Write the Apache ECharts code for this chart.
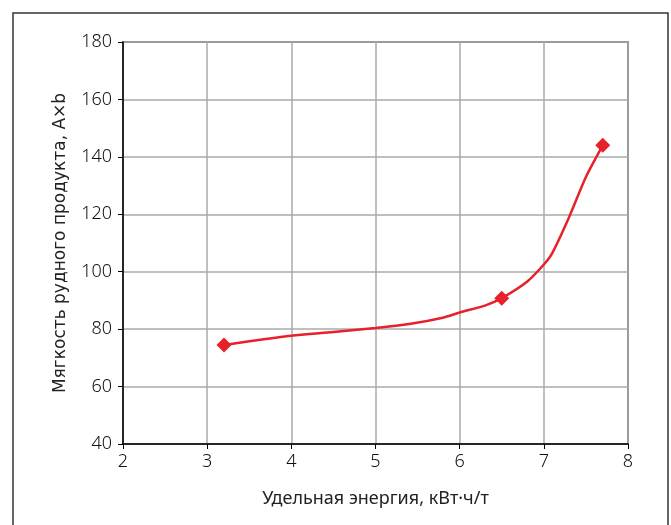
<!DOCTYPE html>
<html><head><meta charset="utf-8">
<script src="https://cdn.jsdelivr.net/npm/echarts@6/dist/echarts.min.js"></script>
<style>html,body{margin:0;padding:0;background:#fff}#c{width:671px;height:525px}</style>
</head><body><div id="c"></div>
<script>
var xTicks = [2, 3, 4, 5, 6, 7, 8];
var yTicks = [40, 60, 80, 100, 120, 140, 160, 180];
var curveX = [3.2, 3.5, 4.0, 4.5, 5.0, 5.4, 5.8, 6.0, 6.3, 6.5, 6.8, 7.0, 7.1, 7.3, 7.5, 7.7];
var curveY = [74.5, 75.8, 77.7, 79.0, 80.4, 81.8, 84.0, 85.8, 88.2, 90.8, 96.5, 102.5, 106.5, 119.0, 133.0, 144.0];
var markX = [3.2, 6.5, 7.7];
var markY = [74.5, 90.8, 144.0];
var xName = 'Удельная энергия, кВт·ч/т';
var yName = 'Мягкость рудного продукта, А×b';

var chart = echarts.init(document.getElementById('c'), null, {renderer: 'canvas'});
var tickFont = {fontFamily: 'Noto Sans', fontWeight: 300, fontSize: 18, color: '#111'};
chart.setOption({
  animation: false,
  backgroundColor: '#fff',
  graphic: [{type: 'rect', shape: {x: 13, y: 13, width: 655, height: 530}, style: {fill: 'none', stroke: '#333', lineWidth: 1.5}, silent: true}],
  grid: {left: 123, top: 42, width: 505, height: 402, show: true, borderColor: '#444', borderWidth: 1.5},
  xAxis: {
    type: 'value', min: 2, max: 8, interval: 1,
    name: xName, nameLocation: 'middle', nameGap: 46,
    nameTextStyle: {fontFamily: 'Noto Sans, sans-serif', fontSize: 18, color: '#222'},
    axisLine: {show: true, lineStyle: {color: '#000', width: 1.5}},
    axisTick: {show: true, length: 5, lineStyle: {color: '#000'}},
    axisLabel: Object.assign({margin: 9, formatter: function(v){return xTicks.indexOf(v) >= 0 ? String(v) : '';}}, tickFont),
    splitLine: {show: true, lineStyle: {color: '#aaa', width: 1.5}}
  },
  yAxis: {
    type: 'value', min: 40, max: 180, interval: 20,
    name: yName, nameLocation: 'middle', nameGap: 54,
    nameTextStyle: {fontFamily: 'DejaVu Sans, sans-serif', fontSize: 17, color: '#222'},
    axisLine: {show: true, lineStyle: {color: '#000', width: 1.5}},
    axisTick: {show: true, length: 5, lineStyle: {color: '#000'}},
    axisLabel: Object.assign({margin: 11, formatter: function(v){return yTicks.indexOf(v) >= 0 ? String(v) : '';}}, tickFont),
    splitLine: {show: true, lineStyle: {color: '#aaa', width: 1.5}}
  },
  series: [
    {type: 'line', data: curveX.map(function(x, i){return [x, curveY[i]];}), smooth: 0.25, showSymbol: false,
     lineStyle: {color: '#e8202a', width: 2.5}, z: 3},
    {type: 'scatter', data: markX.map(function(x, i){return [x, markY[i]];}), symbol: 'diamond', symbolSize: [15, 15],
     itemStyle: {color: '#e8202a', opacity: 1}, z: 4}
  ]
});
</script></body></html>
